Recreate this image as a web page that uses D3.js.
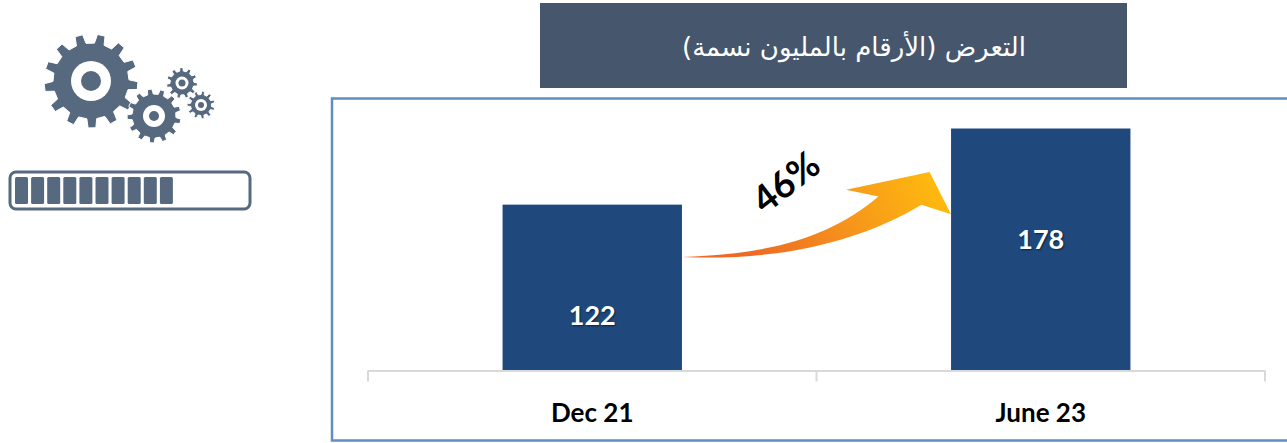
<!DOCTYPE html>
<html lang="ar">
<head>
<meta charset="utf-8">
<script src="https://cdn.jsdelivr.net/npm/d3@7"></script>
<style>
html,body{margin:0;padding:0;background:#fff;overflow:hidden}
svg{display:block}
</style>
</head>
<body>
<svg id="c" width="1287" height="443" xmlns="http://www.w3.org/2000/svg"></svg>
<script>
const categories = ["Dec 21", "June 23"];
const values = [122, 178];
const titleText = "التعرض (الأرقام بالمليون نسمة)";
const growthLabel = "46%";
const progressCells = d3.range(10);

const svg = d3.select("#c");
const latin = "Lato, 'Open Sans', sans-serif";

const x = d3.scaleBand().domain(categories).range([368, 1265]).paddingInner(0.6).paddingOuter(0.3);
const y = d3.scaleLinear().domain([0, 178]).range([370.5, 128.5]);

const defs = svg.append("defs");
const grad = defs.append("linearGradient").attr("id", "arrowGrad")
  .attr("gradientUnits", "userSpaceOnUse")
  .attr("x1", 760).attr("y1", 262).attr("x2", 935).attr("y2", 170);
grad.append("stop").attr("offset", 0).attr("stop-color", "#ee6a24");
grad.append("stop").attr("offset", 0.55).attr("stop-color", "#f79a1a");
grad.append("stop").attr("offset", 1).attr("stop-color", "#ffbb0e");

/* Frame */
svg.append("rect").attr("x", 332).attr("y", 98.5).attr("width", 1000).attr("height", 342)
  .attr("fill", "#fff").attr("stroke", "#5f8dc6").attr("stroke-width", 2.5);

/* Title banner */
svg.append("rect").attr("x", 540).attr("y", 3).attr("width", 587).attr("height", 85).attr("fill", "#46566c");
svg.append("text").attr("x", 854).attr("y", 56).attr("text-anchor", "middle")
  .attr("direction", "rtl")
  .attr("font-family", "'DejaVu Sans', 'Noto Sans', sans-serif")
  .attr("font-size", 26).attr("fill", "#fff").text(titleText);

/* Bars */
svg.selectAll("rect.bar").data(values).join("rect").attr("class", "bar")
  .attr("x", (d, i) => x(categories[i])).attr("width", x.bandwidth())
  .attr("y", d => y(d)).attr("height", d => y(0) - y(d)).attr("fill", "#1f497d");

/* Axis */
const axis = d3.axisBottom(x).tickSize(0).tickPadding(0);
const ax = svg.append("g");
const [r0, r1] = x.range();
const boundaries = [r0, (r0 + r1) / 2, r1];
ax.append("line").attr("x1", r0).attr("x2", r1).attr("y1", y(0)+0.5).attr("y2", y(0)+0.5)
  .attr("stroke", "#d9d9d9").attr("stroke-width", 2);
ax.selectAll("line.t").data(boundaries).join("line").attr("class", "t")
  .attr("x1", d => d).attr("x2", d => d).attr("y1", y(0)).attr("y2", y(0) + 11)
  .attr("stroke", "#d9d9d9").attr("stroke-width", 2);
ax.selectAll("text.cat").data(categories).join("text").attr("class", "cat")
  .attr("x", d => x(d) + x.bandwidth() / 2).attr("y", 422).attr("text-anchor", "middle")
  .attr("font-family", latin).attr("font-weight", 700).attr("font-size", 26).attr("fill", "#000")
  .text(d => d);

/* Value labels */
svg.selectAll("text.val").data(values).join("text").attr("class", "val")
  .attr("x", (d, i) => x(categories[i]) + x.bandwidth() / 2)
  .attr("y", d => y(d) + 120).attr("text-anchor", "middle")
  .attr("font-family", latin).attr("font-weight", 700).attr("font-size", 27).attr("fill", "#fff")
  .style("text-shadow", "1px 1px 2px rgba(0,0,0,.55)")
  .text(d => d);

/* Growth arrow: x given as a fraction of the gap between the bars, y in chart units */
const gapL = x(categories[0]) + x.bandwidth(), gapR = x(categories[1]);
const ap = (f, v) => [gapL + f * (gapR - gapL), y(v)];
const P = (f, v) => ap(f, v).join(",");
const arrowPath =
  "M" + P(0, 83.5) +
  "C" + P(0.33, 85.5) + " " + P(0.55, 98) + " " + P(0.73, 128) +
  "L" + P(0.61, 133) + "L" + P(0.92, 146) + "L" + P(1.0, 115) + "L" + P(0.89, 122) +
  "C" + P(0.68, 97) + " " + P(0.38, 80) + " " + P(0, 83.5) + "Z";
svg.append("path").attr("d", arrowPath).attr("fill", "url(#arrowGrad)");

svg.append("text").attr("transform", "translate(785,181) rotate(-38)")
  .attr("text-anchor", "middle").attr("dominant-baseline", "central")
  .attr("font-family", latin).attr("font-weight", 700).attr("font-size", 37).attr("fill", "#000")
  .text(growthLabel);

/* Gear icon */
function gearPath(cx, cy, rOut, rIn, teeth, phase) {
  const pts = [], step = 2 * Math.PI / teeth;
  for (let i = 0; i < teeth; i++) {
    const a = phase + i * step;
    [[-0.27, rIn], [-0.17, rOut], [0.17, rOut], [0.27, rIn]].forEach(([o, r]) => {
      const t = a + o * step;
      pts.push([cx + r * Math.cos(t), cy + r * Math.sin(t)]);
    });
  }
  return "M" + pts.map(p => p.join(",")).join("L") + "Z";
}
const icon = "#56697f";
const gears = [
  {cx: 91, cy: 81, o: 47, i: 38, n: 13, w: 20, h: 10, ph: 0.1},
  {cx: 154, cy: 116, o: 27, i: 22, n: 13, w: 11, h: 5, ph: 0.2},
  {cx: 182, cy: 83, o: 15.5, i: 12, n: 11, w: 6.5, h: 3.5, ph: 0.1},
  {cx: 201, cy: 105, o: 14, i: 10.5, n: 11, w: 6, h: 3, ph: 0.3}
];
const g = svg.selectAll("g.gear").data(gears).join("g").attr("class", "gear");
g.append("path").attr("d", d => gearPath(d.cx, d.cy, d.o, d.i, d.n, d.ph)).attr("fill", icon)
  .attr("stroke", "#fff").attr("stroke-width", 1);
g.append("circle").attr("cx", d => d.cx).attr("cy", d => d.cy).attr("r", d => d.w).attr("fill", "#fff");
g.append("circle").attr("cx", d => d.cx).attr("cy", d => d.cy).attr("r", d => d.h).attr("fill", icon);

/* Progress bar icon */
svg.append("rect").attr("x", 10).attr("y", 172).attr("width", 240).attr("height", 37).attr("rx", 6)
  .attr("fill", "#fff").attr("stroke", icon).attr("stroke-width", 3);
svg.selectAll("rect.cell").data(progressCells).join("rect").attr("class", "cell")
  .attr("x", d => 15 + d * 16.1).attr("y", 177).attr("width", 13).attr("height", 27).attr("rx", 1.5)
  .attr("fill", icon);
</script>
</body>
</html>
